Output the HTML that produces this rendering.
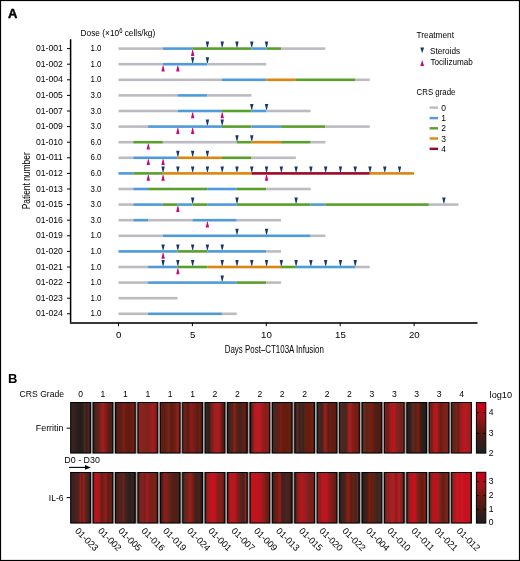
<!DOCTYPE html><html><head><meta charset="utf-8"><style>html,body{margin:0;padding:0;background:#fff;}svg{display:block;will-change:transform;} text{font-family:"Liberation Sans", sans-serif;}</style></head><body>
<svg width="520" height="561" viewBox="0 0 520 561">
<defs>
<linearGradient id="f0" x1="0" y1="0" x2="1" y2="0"><stop offset="0%" stop-color="#1a1010"/><stop offset="4%" stop-color="#3a2420"/><stop offset="16%" stop-color="#342220"/><stop offset="30%" stop-color="#2c201e"/><stop offset="48%" stop-color="#241c1a"/><stop offset="62%" stop-color="#2c201e"/><stop offset="72%" stop-color="#4a2a26"/><stop offset="81%" stop-color="#3c1c18"/><stop offset="90%" stop-color="#4a2824"/><stop offset="97%" stop-color="#3a201c"/><stop offset="100%" stop-color="#1a1010"/></linearGradient>
<linearGradient id="f1" x1="0" y1="0" x2="1" y2="0"><stop offset="0%" stop-color="#1a1010"/><stop offset="4%" stop-color="#3a1e1a"/><stop offset="15%" stop-color="#4a2620"/><stop offset="30%" stop-color="#6a2018"/><stop offset="40%" stop-color="#8a2020"/><stop offset="50%" stop-color="#a81c20"/><stop offset="60%" stop-color="#8a1e1a"/><stop offset="74%" stop-color="#6a1c14"/><stop offset="85%" stop-color="#4e201a"/><stop offset="96%" stop-color="#4a221c"/><stop offset="100%" stop-color="#1a1010"/></linearGradient>
<linearGradient id="f2" x1="0" y1="0" x2="1" y2="0"><stop offset="0%" stop-color="#1a1010"/><stop offset="4%" stop-color="#3a1a14"/><stop offset="12%" stop-color="#5a2018"/><stop offset="22%" stop-color="#5a1c12"/><stop offset="33%" stop-color="#6a1c14"/><stop offset="42%" stop-color="#7a2018"/><stop offset="53%" stop-color="#6a1a10"/><stop offset="64%" stop-color="#5e1c10"/><stop offset="75%" stop-color="#6a1a10"/><stop offset="88%" stop-color="#701c14"/><stop offset="96%" stop-color="#6a2014"/><stop offset="100%" stop-color="#1a1010"/></linearGradient>
<linearGradient id="f3" x1="0" y1="0" x2="1" y2="0"><stop offset="0%" stop-color="#1a1010"/><stop offset="3%" stop-color="#5a1814"/><stop offset="8%" stop-color="#8a2420"/><stop offset="30%" stop-color="#862220"/><stop offset="42%" stop-color="#7a2418"/><stop offset="53%" stop-color="#8a1e1a"/><stop offset="65%" stop-color="#8a2020"/><stop offset="77%" stop-color="#a81c20"/><stop offset="90%" stop-color="#8a1c1c"/><stop offset="97%" stop-color="#6a1814"/><stop offset="100%" stop-color="#1a1010"/></linearGradient>
<linearGradient id="f4" x1="0" y1="0" x2="1" y2="0"><stop offset="0%" stop-color="#1a1010"/><stop offset="4%" stop-color="#6a1c10"/><stop offset="20%" stop-color="#5e1c10"/><stop offset="31%" stop-color="#6a2014"/><stop offset="43%" stop-color="#70281c"/><stop offset="55%" stop-color="#5e1a0e"/><stop offset="66%" stop-color="#6a1c12"/><stop offset="78%" stop-color="#7a1c18"/><stop offset="90%" stop-color="#902420"/><stop offset="97%" stop-color="#6a1c18"/><stop offset="100%" stop-color="#1a1010"/></linearGradient>
<linearGradient id="f5" x1="0" y1="0" x2="1" y2="0"><stop offset="0%" stop-color="#1a1010"/><stop offset="3%" stop-color="#7a2018"/><stop offset="15%" stop-color="#6a2014"/><stop offset="27%" stop-color="#5a1c12"/><stop offset="40%" stop-color="#8a1c1c"/><stop offset="56%" stop-color="#7a1c18"/><stop offset="66%" stop-color="#6a1c14"/><stop offset="77%" stop-color="#5a1c12"/><stop offset="86%" stop-color="#6a2014"/><stop offset="94%" stop-color="#5a1410"/><stop offset="100%" stop-color="#1a1010"/></linearGradient>
<linearGradient id="f6" x1="0" y1="0" x2="1" y2="0"><stop offset="0%" stop-color="#1a1010"/><stop offset="4%" stop-color="#3a2420"/><stop offset="16%" stop-color="#2e201c"/><stop offset="26%" stop-color="#3a201c"/><stop offset="28%" stop-color="#7a1c18"/><stop offset="35%" stop-color="#6a2418"/><stop offset="45%" stop-color="#a01c20"/><stop offset="62%" stop-color="#b01c20"/><stop offset="76%" stop-color="#9a1c1c"/><stop offset="88%" stop-color="#5a1c14"/><stop offset="96%" stop-color="#4a1a14"/><stop offset="100%" stop-color="#1a1010"/></linearGradient>
<linearGradient id="f7" x1="0" y1="0" x2="1" y2="0"><stop offset="0%" stop-color="#1a1010"/><stop offset="4%" stop-color="#3a2018"/><stop offset="14%" stop-color="#44261f"/><stop offset="25%" stop-color="#5a2018"/><stop offset="34%" stop-color="#8a2420"/><stop offset="45%" stop-color="#6a1c10"/><stop offset="55%" stop-color="#4a2418"/><stop offset="64%" stop-color="#3a2420"/><stop offset="76%" stop-color="#5a2018"/><stop offset="86%" stop-color="#6a1c10"/><stop offset="95%" stop-color="#4a1410"/><stop offset="100%" stop-color="#1a1010"/></linearGradient>
<linearGradient id="f8" x1="0" y1="0" x2="1" y2="0"><stop offset="0%" stop-color="#1a1010"/><stop offset="3%" stop-color="#2a1410"/><stop offset="10%" stop-color="#5a2418"/><stop offset="18%" stop-color="#9a1c1c"/><stop offset="25%" stop-color="#b81820"/><stop offset="45%" stop-color="#b82024"/><stop offset="55%" stop-color="#b01c1c"/><stop offset="65%" stop-color="#9a1c1c"/><stop offset="80%" stop-color="#8a1c1c"/><stop offset="96%" stop-color="#8a1c1c"/><stop offset="100%" stop-color="#1a1010"/></linearGradient>
<linearGradient id="f9" x1="0" y1="0" x2="1" y2="0"><stop offset="0%" stop-color="#1a1010"/><stop offset="4%" stop-color="#3a2420"/><stop offset="12%" stop-color="#4a2820"/><stop offset="28%" stop-color="#5a2018"/><stop offset="42%" stop-color="#7a1c18"/><stop offset="55%" stop-color="#661c0c"/><stop offset="75%" stop-color="#661c0c"/><stop offset="90%" stop-color="#6a2010"/><stop offset="97%" stop-color="#4a1a10"/><stop offset="100%" stop-color="#1a1010"/></linearGradient>
<linearGradient id="f10" x1="0" y1="0" x2="1" y2="0"><stop offset="0%" stop-color="#1a1010"/><stop offset="4%" stop-color="#3a1c18"/><stop offset="12%" stop-color="#5a2c24"/><stop offset="22%" stop-color="#3e2220"/><stop offset="33%" stop-color="#482420"/><stop offset="44%" stop-color="#3a2420"/><stop offset="51%" stop-color="#5a2418"/><stop offset="60%" stop-color="#6a1c0c"/><stop offset="78%" stop-color="#6a1c10"/><stop offset="90%" stop-color="#722010"/><stop offset="97%" stop-color="#3a1410"/><stop offset="100%" stop-color="#1a1010"/></linearGradient>
<linearGradient id="f11" x1="0" y1="0" x2="1" y2="0"><stop offset="0%" stop-color="#1a1010"/><stop offset="4%" stop-color="#3e2a24"/><stop offset="17%" stop-color="#3e2822"/><stop offset="24%" stop-color="#3a2420"/><stop offset="30%" stop-color="#6a2018"/><stop offset="40%" stop-color="#a01c20"/><stop offset="49%" stop-color="#7a2018"/><stop offset="58%" stop-color="#5a1c14"/><stop offset="68%" stop-color="#62221a"/><stop offset="78%" stop-color="#5e1c12"/><stop offset="90%" stop-color="#6a1c10"/><stop offset="97%" stop-color="#4a1410"/><stop offset="100%" stop-color="#1a1010"/></linearGradient>
<linearGradient id="f12" x1="0" y1="0" x2="1" y2="0"><stop offset="0%" stop-color="#1a1010"/><stop offset="4%" stop-color="#4e2c26"/><stop offset="20%" stop-color="#4a2620"/><stop offset="33%" stop-color="#4a2620"/><stop offset="40%" stop-color="#6a2418"/><stop offset="48%" stop-color="#a82024"/><stop offset="58%" stop-color="#a01c20"/><stop offset="65%" stop-color="#8a1c1c"/><stop offset="75%" stop-color="#7a1c14"/><stop offset="95%" stop-color="#7a1c14"/><stop offset="100%" stop-color="#1a1010"/></linearGradient>
<linearGradient id="f13" x1="0" y1="0" x2="1" y2="0"><stop offset="0%" stop-color="#1a1010"/><stop offset="3%" stop-color="#3a1810"/><stop offset="10%" stop-color="#6a3020"/><stop offset="22%" stop-color="#5a2418"/><stop offset="35%" stop-color="#6a2414"/><stop offset="46%" stop-color="#7a1c14"/><stop offset="56%" stop-color="#6a1c10"/><stop offset="70%" stop-color="#4a2018"/><stop offset="80%" stop-color="#4a2018"/><stop offset="88%" stop-color="#5a1c14"/><stop offset="95%" stop-color="#5a0c08"/><stop offset="100%" stop-color="#1a1010"/></linearGradient>
<linearGradient id="f14" x1="0" y1="0" x2="1" y2="0"><stop offset="0%" stop-color="#1a1010"/><stop offset="4%" stop-color="#7a1c18"/><stop offset="20%" stop-color="#7a1c14"/><stop offset="31%" stop-color="#9a2020"/><stop offset="40%" stop-color="#b8141e"/><stop offset="50%" stop-color="#c0141e"/><stop offset="58%" stop-color="#8a2420"/><stop offset="72%" stop-color="#7a2420"/><stop offset="88%" stop-color="#7a1c18"/><stop offset="95%" stop-color="#8a2420"/><stop offset="100%" stop-color="#1a1010"/></linearGradient>
<linearGradient id="f15" x1="0" y1="0" x2="1" y2="0"><stop offset="0%" stop-color="#1a1010"/><stop offset="4%" stop-color="#2e201c"/><stop offset="14%" stop-color="#262020"/><stop offset="24%" stop-color="#4a2420"/><stop offset="35%" stop-color="#6a2418"/><stop offset="44%" stop-color="#4a2420"/><stop offset="54%" stop-color="#7a1c10"/><stop offset="60%" stop-color="#7a1c10"/><stop offset="66%" stop-color="#4a2018"/><stop offset="78%" stop-color="#2e1e18"/><stop offset="92%" stop-color="#262020"/><stop offset="100%" stop-color="#1a1010"/></linearGradient>
<linearGradient id="f16" x1="0" y1="0" x2="1" y2="0"><stop offset="0%" stop-color="#1a1010"/><stop offset="4%" stop-color="#7a1c18"/><stop offset="14%" stop-color="#7a1c14"/><stop offset="21%" stop-color="#a01c1c"/><stop offset="28%" stop-color="#c0101e"/><stop offset="37%" stop-color="#b01c20"/><stop offset="47%" stop-color="#8a1c18"/><stop offset="60%" stop-color="#6a1c10"/><stop offset="73%" stop-color="#7a2018"/><stop offset="86%" stop-color="#7a2420"/><stop offset="94%" stop-color="#8a1c18"/><stop offset="100%" stop-color="#1a1010"/></linearGradient>
<linearGradient id="f17" x1="0" y1="0" x2="1" y2="0"><stop offset="0%" stop-color="#1a1010"/><stop offset="4%" stop-color="#5a2820"/><stop offset="17%" stop-color="#6a2418"/><stop offset="26%" stop-color="#7a2418"/><stop offset="34%" stop-color="#6a1c10"/><stop offset="44%" stop-color="#8a2420"/><stop offset="56%" stop-color="#c0101e"/><stop offset="70%" stop-color="#b01c20"/><stop offset="85%" stop-color="#a81c20"/><stop offset="96%" stop-color="#a01c20"/><stop offset="100%" stop-color="#1a1010"/></linearGradient>
<linearGradient id="i0" x1="0" y1="0" x2="1" y2="0"><stop offset="0%" stop-color="#1a1010"/><stop offset="4%" stop-color="#3e2220"/><stop offset="20%" stop-color="#3e2220"/><stop offset="30%" stop-color="#4a2420"/><stop offset="42%" stop-color="#5a2018"/><stop offset="50%" stop-color="#9a1c1c"/><stop offset="57%" stop-color="#5a2018"/><stop offset="65%" stop-color="#a01c1c"/><stop offset="73%" stop-color="#6a2018"/><stop offset="83%" stop-color="#4a2420"/><stop offset="94%" stop-color="#3a2420"/><stop offset="100%" stop-color="#1a1010"/></linearGradient>
<linearGradient id="i1" x1="0" y1="0" x2="1" y2="0"><stop offset="0%" stop-color="#1a1010"/><stop offset="4%" stop-color="#a01418"/><stop offset="12%" stop-color="#c0101e"/><stop offset="20%" stop-color="#c0101e"/><stop offset="28%" stop-color="#a81c1c"/><stop offset="38%" stop-color="#7a2018"/><stop offset="47%" stop-color="#6a1c10"/><stop offset="56%" stop-color="#8a1c1c"/><stop offset="68%" stop-color="#8a1c1c"/><stop offset="76%" stop-color="#5a1c10"/><stop offset="88%" stop-color="#6a2018"/><stop offset="96%" stop-color="#5a1c14"/><stop offset="100%" stop-color="#1a1010"/></linearGradient>
<linearGradient id="i2" x1="0" y1="0" x2="1" y2="0"><stop offset="0%" stop-color="#1a1010"/><stop offset="4%" stop-color="#3a2420"/><stop offset="14%" stop-color="#4a2018"/><stop offset="22%" stop-color="#6a1c10"/><stop offset="31%" stop-color="#4a2420"/><stop offset="40%" stop-color="#5a2a24"/><stop offset="51%" stop-color="#4a2018"/><stop offset="64%" stop-color="#3a2018"/><stop offset="75%" stop-color="#222020"/><stop offset="85%" stop-color="#3a2420"/><stop offset="95%" stop-color="#2a1c18"/><stop offset="100%" stop-color="#1a1010"/></linearGradient>
<linearGradient id="i3" x1="0" y1="0" x2="1" y2="0"><stop offset="0%" stop-color="#1a1010"/><stop offset="4%" stop-color="#5a1c14"/><stop offset="12%" stop-color="#6a2820"/><stop offset="24%" stop-color="#8a2020"/><stop offset="35%" stop-color="#7a1c18"/><stop offset="44%" stop-color="#a01c20"/><stop offset="53%" stop-color="#8a2020"/><stop offset="70%" stop-color="#7a1c18"/><stop offset="85%" stop-color="#7a2418"/><stop offset="94%" stop-color="#6a1c10"/><stop offset="100%" stop-color="#1a1010"/></linearGradient>
<linearGradient id="i4" x1="0" y1="0" x2="1" y2="0"><stop offset="0%" stop-color="#1a1010"/><stop offset="4%" stop-color="#2a1c18"/><stop offset="11%" stop-color="#5a2018"/><stop offset="18%" stop-color="#8a1c1c"/><stop offset="34%" stop-color="#8a1c1c"/><stop offset="42%" stop-color="#5a2a24"/><stop offset="53%" stop-color="#6a1c10"/><stop offset="67%" stop-color="#4a2018"/><stop offset="81%" stop-color="#5a1c14"/><stop offset="92%" stop-color="#3a2420"/><stop offset="100%" stop-color="#1a1010"/></linearGradient>
<linearGradient id="i5" x1="0" y1="0" x2="1" y2="0"><stop offset="0%" stop-color="#1a1010"/><stop offset="4%" stop-color="#4a2a24"/><stop offset="15%" stop-color="#6a2418"/><stop offset="28%" stop-color="#7a2420"/><stop offset="40%" stop-color="#9a1c1c"/><stop offset="52%" stop-color="#7a1c14"/><stop offset="62%" stop-color="#4a2018"/><stop offset="74%" stop-color="#3a2420"/><stop offset="85%" stop-color="#4a2018"/><stop offset="94%" stop-color="#2e1c18"/><stop offset="100%" stop-color="#1a1010"/></linearGradient>
<linearGradient id="i6" x1="0" y1="0" x2="1" y2="0"><stop offset="0%" stop-color="#1a1010"/><stop offset="4%" stop-color="#5a1c14"/><stop offset="10%" stop-color="#9a1c1c"/><stop offset="24%" stop-color="#a81c20"/><stop offset="32%" stop-color="#c8101e"/><stop offset="48%" stop-color="#c8101e"/><stop offset="55%" stop-color="#a81c20"/><stop offset="63%" stop-color="#8a1c1c"/><stop offset="72%" stop-color="#7a2418"/><stop offset="82%" stop-color="#8a1c1c"/><stop offset="93%" stop-color="#6a1c10"/><stop offset="100%" stop-color="#1a1010"/></linearGradient>
<linearGradient id="i7" x1="0" y1="0" x2="1" y2="0"><stop offset="0%" stop-color="#1a1010"/><stop offset="4%" stop-color="#6a1c14"/><stop offset="10%" stop-color="#a01c1c"/><stop offset="18%" stop-color="#c8101e"/><stop offset="27%" stop-color="#a82020"/><stop offset="38%" stop-color="#c8101e"/><stop offset="48%" stop-color="#8a1c1c"/><stop offset="62%" stop-color="#6a2018"/><stop offset="75%" stop-color="#4a2420"/><stop offset="84%" stop-color="#4a2420"/><stop offset="91%" stop-color="#8a2420"/><stop offset="97%" stop-color="#5a1410"/><stop offset="100%" stop-color="#1a1010"/></linearGradient>
<linearGradient id="i8" x1="0" y1="0" x2="1" y2="0"><stop offset="0%" stop-color="#1a1010"/><stop offset="4%" stop-color="#a02020"/><stop offset="12%" stop-color="#c0141e"/><stop offset="35%" stop-color="#c0141e"/><stop offset="43%" stop-color="#c8101e"/><stop offset="52%" stop-color="#b01820"/><stop offset="63%" stop-color="#a01c1c"/><stop offset="75%" stop-color="#8a1c18"/><stop offset="88%" stop-color="#6a1c10"/><stop offset="96%" stop-color="#6a1c10"/><stop offset="100%" stop-color="#1a1010"/></linearGradient>
<linearGradient id="i9" x1="0" y1="0" x2="1" y2="0"><stop offset="0%" stop-color="#1a1010"/><stop offset="3%" stop-color="#2a2220"/><stop offset="8%" stop-color="#4a2420"/><stop offset="15%" stop-color="#6a1c10"/><stop offset="27%" stop-color="#7a1c18"/><stop offset="40%" stop-color="#9a1c1c"/><stop offset="47%" stop-color="#4a2018"/><stop offset="56%" stop-color="#3e2420"/><stop offset="72%" stop-color="#4a2420"/><stop offset="88%" stop-color="#4a2018"/><stop offset="96%" stop-color="#2a1c18"/><stop offset="100%" stop-color="#1a1010"/></linearGradient>
<linearGradient id="i10" x1="0" y1="0" x2="1" y2="0"><stop offset="0%" stop-color="#1a1010"/><stop offset="4%" stop-color="#5a1c14"/><stop offset="12%" stop-color="#7a2018"/><stop offset="22%" stop-color="#a01c1c"/><stop offset="36%" stop-color="#b0181e"/><stop offset="50%" stop-color="#a01c20"/><stop offset="62%" stop-color="#8a2020"/><stop offset="80%" stop-color="#7a2018"/><stop offset="93%" stop-color="#7a2018"/><stop offset="97%" stop-color="#5a1410"/><stop offset="100%" stop-color="#1a1010"/></linearGradient>
<linearGradient id="i11" x1="0" y1="0" x2="1" y2="0"><stop offset="0%" stop-color="#1a1010"/><stop offset="4%" stop-color="#a01c1c"/><stop offset="15%" stop-color="#8a2020"/><stop offset="25%" stop-color="#b81820"/><stop offset="40%" stop-color="#c8101e"/><stop offset="52%" stop-color="#a81c20"/><stop offset="65%" stop-color="#8a1c1c"/><stop offset="78%" stop-color="#7a1c18"/><stop offset="92%" stop-color="#6a1c10"/><stop offset="97%" stop-color="#5a1410"/><stop offset="100%" stop-color="#1a1010"/></linearGradient>
<linearGradient id="i12" x1="0" y1="0" x2="1" y2="0"><stop offset="0%" stop-color="#1a1010"/><stop offset="4%" stop-color="#2e2420"/><stop offset="18%" stop-color="#3e2420"/><stop offset="30%" stop-color="#5a2018"/><stop offset="38%" stop-color="#7a2418"/><stop offset="48%" stop-color="#8a1c1c"/><stop offset="59%" stop-color="#5a1c10"/><stop offset="68%" stop-color="#6a2014"/><stop offset="80%" stop-color="#4a2420"/><stop offset="92%" stop-color="#5a2820"/><stop offset="100%" stop-color="#1a1010"/></linearGradient>
<linearGradient id="i13" x1="0" y1="0" x2="1" y2="0"><stop offset="0%" stop-color="#1a1010"/><stop offset="4%" stop-color="#2a201c"/><stop offset="16%" stop-color="#3a2018"/><stop offset="28%" stop-color="#4a2018"/><stop offset="38%" stop-color="#7a1c10"/><stop offset="48%" stop-color="#6a1c0c"/><stop offset="58%" stop-color="#5a2418"/><stop offset="68%" stop-color="#4a2420"/><stop offset="80%" stop-color="#3a2420"/><stop offset="92%" stop-color="#4a2c26"/><stop offset="100%" stop-color="#1a1010"/></linearGradient>
<linearGradient id="i14" x1="0" y1="0" x2="1" y2="0"><stop offset="0%" stop-color="#1a1010"/><stop offset="4%" stop-color="#6a2010"/><stop offset="14%" stop-color="#8a2420"/><stop offset="26%" stop-color="#a01c1c"/><stop offset="38%" stop-color="#9a2a28"/><stop offset="48%" stop-color="#b81820"/><stop offset="60%" stop-color="#8a1c18"/><stop offset="73%" stop-color="#b81c24"/><stop offset="85%" stop-color="#8a2420"/><stop offset="94%" stop-color="#6a2018"/><stop offset="100%" stop-color="#1a1010"/></linearGradient>
<linearGradient id="i15" x1="0" y1="0" x2="1" y2="0"><stop offset="0%" stop-color="#1a1010"/><stop offset="4%" stop-color="#6a2018"/><stop offset="12%" stop-color="#8a2420"/><stop offset="20%" stop-color="#b01820"/><stop offset="30%" stop-color="#c8101e"/><stop offset="40%" stop-color="#c8101e"/><stop offset="46%" stop-color="#b01820"/><stop offset="55%" stop-color="#7a2418"/><stop offset="72%" stop-color="#6a1c10"/><stop offset="84%" stop-color="#6a1c10"/><stop offset="92%" stop-color="#8a1c18"/><stop offset="100%" stop-color="#1a1010"/></linearGradient>
<linearGradient id="i16" x1="0" y1="0" x2="1" y2="0"><stop offset="0%" stop-color="#1a1010"/><stop offset="4%" stop-color="#6a2018"/><stop offset="13%" stop-color="#8a2420"/><stop offset="22%" stop-color="#c0101e"/><stop offset="36%" stop-color="#c0101e"/><stop offset="46%" stop-color="#9a2020"/><stop offset="56%" stop-color="#7a2418"/><stop offset="70%" stop-color="#6a1c10"/><stop offset="86%" stop-color="#6a2820"/><stop offset="95%" stop-color="#8a1c18"/><stop offset="100%" stop-color="#1a1010"/></linearGradient>
<linearGradient id="i17" x1="0" y1="0" x2="1" y2="0"><stop offset="0%" stop-color="#1a1010"/><stop offset="4%" stop-color="#8a2820"/><stop offset="12%" stop-color="#8a2820"/><stop offset="18%" stop-color="#c0101e"/><stop offset="30%" stop-color="#c81a24"/><stop offset="40%" stop-color="#c8101e"/><stop offset="52%" stop-color="#c81a24"/><stop offset="65%" stop-color="#c8101e"/><stop offset="80%" stop-color="#c8101e"/><stop offset="92%" stop-color="#b81820"/><stop offset="100%" stop-color="#1a1010"/></linearGradient>
<linearGradient id="cbf" x1="0" y1="0" x2="0" y2="1"><stop offset="0%" stop-color="#d2001a"/><stop offset="10%" stop-color="#c4061a"/><stop offset="28%" stop-color="#a01418"/><stop offset="45%" stop-color="#7a1812"/><stop offset="60%" stop-color="#5a1810"/><stop offset="75%" stop-color="#3a1c18"/><stop offset="90%" stop-color="#2a2020"/><stop offset="100%" stop-color="#222020"/></linearGradient>
<linearGradient id="cbi" x1="0" y1="0" x2="0" y2="1"><stop offset="0%" stop-color="#cc001a"/><stop offset="10%" stop-color="#c0061a"/><stop offset="30%" stop-color="#9a1418"/><stop offset="50%" stop-color="#6a1810"/><stop offset="70%" stop-color="#4a1a14"/><stop offset="85%" stop-color="#2e1e1a"/><stop offset="100%" stop-color="#1e1e1c"/></linearGradient>
</defs>
<rect x="0" y="0" width="520" height="561" fill="#fff"/>
<rect x="0.5" y="0.5" width="519" height="560" fill="none" stroke="#000" stroke-width="1.2"/>
<text x="8.1" y="18.1" font-size="13" font-weight="bold" stroke="#000" stroke-width="0.45">A</text>
<text x="8" y="382.8" font-size="13" font-weight="bold">B</text>
<text x="80.6" y="35.9" font-size="9.4" textLength="74.6" lengthAdjust="spacingAndGlyphs">Dose (×10<tspan dy="-3.1" font-size="6.6">6</tspan><tspan dy="3.1"> cells/kg)</tspan></text>
<line x1="70.6" y1="39.3" x2="70.6" y2="322" stroke="#000" stroke-width="1.5"/>
<line x1="69.85" y1="322.9" x2="477.5" y2="322.9" stroke="#383838" stroke-width="2"/>
<line x1="67" y1="48.60" x2="70.6" y2="48.60" stroke="#000" stroke-width="1"/>
<text x="62.8" y="51.20" font-size="9.9" text-anchor="end" textLength="26.9" lengthAdjust="spacingAndGlyphs">01-001</text>
<text x="96.0" y="51.20" font-size="9" text-anchor="middle" textLength="11" lengthAdjust="spacingAndGlyphs">1.0</text>
<rect x="118.50" y="47.30" width="44.34" height="2.60" fill="#bdbbc2"/>
<rect x="162.84" y="47.30" width="29.56" height="2.60" fill="#4f9bd9"/>
<rect x="192.40" y="47.30" width="59.12" height="2.60" fill="#5a9f2b"/>
<rect x="251.52" y="47.30" width="14.78" height="2.60" fill="#4f9bd9"/>
<rect x="266.30" y="47.30" width="14.78" height="2.60" fill="#5a9f2b"/>
<rect x="281.08" y="47.30" width="44.34" height="2.60" fill="#bdbbc2"/>
<line x1="67" y1="64.20" x2="70.6" y2="64.20" stroke="#000" stroke-width="1"/>
<text x="62.8" y="66.80" font-size="9.9" text-anchor="end" textLength="26.9" lengthAdjust="spacingAndGlyphs">01-002</text>
<text x="96.0" y="66.80" font-size="9" text-anchor="middle" textLength="11" lengthAdjust="spacingAndGlyphs">1.0</text>
<rect x="118.50" y="62.90" width="44.34" height="2.60" fill="#bdbbc2"/>
<rect x="162.84" y="62.90" width="44.34" height="2.60" fill="#4f9bd9"/>
<rect x="207.18" y="62.90" width="59.12" height="2.60" fill="#bdbbc2"/>
<line x1="67" y1="79.80" x2="70.6" y2="79.80" stroke="#000" stroke-width="1"/>
<text x="62.8" y="82.40" font-size="9.9" text-anchor="end" textLength="26.9" lengthAdjust="spacingAndGlyphs">01-004</text>
<text x="96.0" y="82.40" font-size="9" text-anchor="middle" textLength="11" lengthAdjust="spacingAndGlyphs">1.0</text>
<rect x="118.50" y="78.50" width="103.46" height="2.60" fill="#bdbbc2"/>
<rect x="221.96" y="78.50" width="44.34" height="2.60" fill="#4f9bd9"/>
<rect x="266.30" y="78.50" width="29.56" height="2.60" fill="#dd860f"/>
<rect x="295.86" y="78.50" width="59.12" height="2.60" fill="#5a9f2b"/>
<rect x="354.98" y="78.50" width="14.78" height="2.60" fill="#bdbbc2"/>
<line x1="67" y1="95.40" x2="70.6" y2="95.40" stroke="#000" stroke-width="1"/>
<text x="62.8" y="98.00" font-size="9.9" text-anchor="end" textLength="26.9" lengthAdjust="spacingAndGlyphs">01-005</text>
<text x="96.0" y="98.00" font-size="9" text-anchor="middle" textLength="11" lengthAdjust="spacingAndGlyphs">3.0</text>
<rect x="118.50" y="94.10" width="59.12" height="2.60" fill="#bdbbc2"/>
<rect x="177.62" y="94.10" width="29.56" height="2.60" fill="#4f9bd9"/>
<rect x="207.18" y="94.10" width="44.34" height="2.60" fill="#bdbbc2"/>
<line x1="67" y1="111.00" x2="70.6" y2="111.00" stroke="#000" stroke-width="1"/>
<text x="62.8" y="113.60" font-size="9.9" text-anchor="end" textLength="26.9" lengthAdjust="spacingAndGlyphs">01-007</text>
<text x="96.0" y="113.60" font-size="9" text-anchor="middle" textLength="11" lengthAdjust="spacingAndGlyphs">3.0</text>
<rect x="118.50" y="109.70" width="59.12" height="2.60" fill="#bdbbc2"/>
<rect x="177.62" y="109.70" width="44.34" height="2.60" fill="#4f9bd9"/>
<rect x="221.96" y="109.70" width="29.56" height="2.60" fill="#5a9f2b"/>
<rect x="251.52" y="109.70" width="14.78" height="2.60" fill="#4f9bd9"/>
<rect x="266.30" y="109.70" width="44.34" height="2.60" fill="#bdbbc2"/>
<line x1="67" y1="126.60" x2="70.6" y2="126.60" stroke="#000" stroke-width="1"/>
<text x="62.8" y="129.20" font-size="9.9" text-anchor="end" textLength="26.9" lengthAdjust="spacingAndGlyphs">01-009</text>
<text x="96.0" y="129.20" font-size="9" text-anchor="middle" textLength="11" lengthAdjust="spacingAndGlyphs">3.0</text>
<rect x="118.50" y="125.30" width="29.56" height="2.60" fill="#bdbbc2"/>
<rect x="148.06" y="125.30" width="73.90" height="2.60" fill="#4f9bd9"/>
<rect x="221.96" y="125.30" width="29.56" height="2.60" fill="#5a9f2b"/>
<rect x="251.52" y="125.30" width="29.56" height="2.60" fill="#4f9bd9"/>
<rect x="281.08" y="125.30" width="44.34" height="2.60" fill="#5a9f2b"/>
<rect x="325.42" y="125.30" width="44.34" height="2.60" fill="#bdbbc2"/>
<line x1="67" y1="142.20" x2="70.6" y2="142.20" stroke="#000" stroke-width="1"/>
<text x="62.8" y="144.80" font-size="9.9" text-anchor="end" textLength="26.9" lengthAdjust="spacingAndGlyphs">01-010</text>
<text x="96.0" y="144.80" font-size="9" text-anchor="middle" textLength="11" lengthAdjust="spacingAndGlyphs">6.0</text>
<rect x="118.50" y="140.90" width="14.78" height="2.60" fill="#bdbbc2"/>
<rect x="133.28" y="140.90" width="29.56" height="2.60" fill="#5a9f2b"/>
<rect x="162.84" y="140.90" width="73.90" height="2.60" fill="#bdbbc2"/>
<rect x="236.74" y="140.90" width="14.78" height="2.60" fill="#5a9f2b"/>
<rect x="251.52" y="140.90" width="29.56" height="2.60" fill="#dd860f"/>
<rect x="281.08" y="140.90" width="29.56" height="2.60" fill="#5a9f2b"/>
<rect x="310.64" y="140.90" width="14.78" height="2.60" fill="#bdbbc2"/>
<line x1="67" y1="157.80" x2="70.6" y2="157.80" stroke="#000" stroke-width="1"/>
<text x="62.8" y="160.40" font-size="9.9" text-anchor="end" textLength="26.9" lengthAdjust="spacingAndGlyphs">01-011</text>
<text x="96.0" y="160.40" font-size="9" text-anchor="middle" textLength="11" lengthAdjust="spacingAndGlyphs">6.0</text>
<rect x="118.50" y="156.50" width="14.78" height="2.60" fill="#bdbbc2"/>
<rect x="133.28" y="156.50" width="44.34" height="2.60" fill="#4f9bd9"/>
<rect x="177.62" y="156.50" width="44.34" height="2.60" fill="#dd860f"/>
<rect x="221.96" y="156.50" width="29.56" height="2.60" fill="#5a9f2b"/>
<rect x="251.52" y="156.50" width="44.34" height="2.60" fill="#bdbbc2"/>
<line x1="67" y1="173.40" x2="70.6" y2="173.40" stroke="#000" stroke-width="1"/>
<text x="62.8" y="176.00" font-size="9.9" text-anchor="end" textLength="26.9" lengthAdjust="spacingAndGlyphs">01-012</text>
<text x="96.0" y="176.00" font-size="9" text-anchor="middle" textLength="11" lengthAdjust="spacingAndGlyphs">6.0</text>
<rect x="118.50" y="172.10" width="14.78" height="2.60" fill="#4f9bd9"/>
<rect x="133.28" y="172.10" width="29.56" height="2.60" fill="#5a9f2b"/>
<rect x="162.84" y="172.10" width="88.68" height="2.60" fill="#dd860f"/>
<rect x="251.52" y="172.10" width="118.24" height="2.60" fill="#a2061f"/>
<rect x="369.76" y="172.10" width="44.34" height="2.60" fill="#dd860f"/>
<line x1="67" y1="189.00" x2="70.6" y2="189.00" stroke="#000" stroke-width="1"/>
<text x="62.8" y="191.60" font-size="9.9" text-anchor="end" textLength="26.9" lengthAdjust="spacingAndGlyphs">01-013</text>
<text x="96.0" y="191.60" font-size="9" text-anchor="middle" textLength="11" lengthAdjust="spacingAndGlyphs">3.0</text>
<rect x="118.50" y="187.70" width="14.78" height="2.60" fill="#bdbbc2"/>
<rect x="133.28" y="187.70" width="14.78" height="2.60" fill="#4f9bd9"/>
<rect x="148.06" y="187.70" width="59.12" height="2.60" fill="#5a9f2b"/>
<rect x="207.18" y="187.70" width="29.56" height="2.60" fill="#4f9bd9"/>
<rect x="236.74" y="187.70" width="29.56" height="2.60" fill="#5a9f2b"/>
<rect x="266.30" y="187.70" width="44.34" height="2.60" fill="#bdbbc2"/>
<line x1="67" y1="204.60" x2="70.6" y2="204.60" stroke="#000" stroke-width="1"/>
<text x="62.8" y="207.20" font-size="9.9" text-anchor="end" textLength="26.9" lengthAdjust="spacingAndGlyphs">01-015</text>
<text x="96.0" y="207.20" font-size="9" text-anchor="middle" textLength="11" lengthAdjust="spacingAndGlyphs">3.0</text>
<rect x="118.50" y="203.30" width="14.78" height="2.60" fill="#bdbbc2"/>
<rect x="133.28" y="203.30" width="29.56" height="2.60" fill="#4f9bd9"/>
<rect x="162.84" y="203.30" width="14.78" height="2.60" fill="#5a9f2b"/>
<rect x="177.62" y="203.30" width="14.78" height="2.60" fill="#4f9bd9"/>
<rect x="192.40" y="203.30" width="14.78" height="2.60" fill="#5a9f2b"/>
<rect x="207.18" y="203.30" width="29.56" height="2.60" fill="#4f9bd9"/>
<rect x="236.74" y="203.30" width="73.90" height="2.60" fill="#5a9f2b"/>
<rect x="310.64" y="203.30" width="14.78" height="2.60" fill="#4f9bd9"/>
<rect x="325.42" y="203.30" width="103.46" height="2.60" fill="#5a9f2b"/>
<rect x="428.88" y="203.30" width="29.56" height="2.60" fill="#bdbbc2"/>
<line x1="67" y1="220.20" x2="70.6" y2="220.20" stroke="#000" stroke-width="1"/>
<text x="62.8" y="222.80" font-size="9.9" text-anchor="end" textLength="26.9" lengthAdjust="spacingAndGlyphs">01-016</text>
<text x="96.0" y="222.80" font-size="9" text-anchor="middle" textLength="11" lengthAdjust="spacingAndGlyphs">3.0</text>
<rect x="118.50" y="218.90" width="14.78" height="2.60" fill="#bdbbc2"/>
<rect x="133.28" y="218.90" width="14.78" height="2.60" fill="#4f9bd9"/>
<rect x="148.06" y="218.90" width="44.34" height="2.60" fill="#bdbbc2"/>
<rect x="192.40" y="218.90" width="44.34" height="2.60" fill="#4f9bd9"/>
<rect x="236.74" y="218.90" width="44.34" height="2.60" fill="#bdbbc2"/>
<line x1="67" y1="235.80" x2="70.6" y2="235.80" stroke="#000" stroke-width="1"/>
<text x="62.8" y="238.40" font-size="9.9" text-anchor="end" textLength="26.9" lengthAdjust="spacingAndGlyphs">01-019</text>
<text x="96.0" y="238.40" font-size="9" text-anchor="middle" textLength="11" lengthAdjust="spacingAndGlyphs">1.0</text>
<rect x="118.50" y="234.50" width="44.34" height="2.60" fill="#bdbbc2"/>
<rect x="162.84" y="234.50" width="147.80" height="2.60" fill="#4f9bd9"/>
<rect x="310.64" y="234.50" width="14.78" height="2.60" fill="#bdbbc2"/>
<line x1="67" y1="251.40" x2="70.6" y2="251.40" stroke="#000" stroke-width="1"/>
<text x="62.8" y="254.00" font-size="9.9" text-anchor="end" textLength="26.9" lengthAdjust="spacingAndGlyphs">01-020</text>
<text x="96.0" y="254.00" font-size="9" text-anchor="middle" textLength="11" lengthAdjust="spacingAndGlyphs">1.0</text>
<rect x="118.50" y="250.10" width="59.12" height="2.60" fill="#4f9bd9"/>
<rect x="177.62" y="250.10" width="29.56" height="2.60" fill="#5a9f2b"/>
<rect x="207.18" y="250.10" width="59.12" height="2.60" fill="#4f9bd9"/>
<rect x="266.30" y="250.10" width="14.78" height="2.60" fill="#bdbbc2"/>
<line x1="67" y1="267.00" x2="70.6" y2="267.00" stroke="#000" stroke-width="1"/>
<text x="62.8" y="269.60" font-size="9.9" text-anchor="end" textLength="26.9" lengthAdjust="spacingAndGlyphs">01-021</text>
<text x="96.0" y="269.60" font-size="9" text-anchor="middle" textLength="11" lengthAdjust="spacingAndGlyphs">1.0</text>
<rect x="118.50" y="265.70" width="29.56" height="2.60" fill="#bdbbc2"/>
<rect x="148.06" y="265.70" width="29.56" height="2.60" fill="#4f9bd9"/>
<rect x="177.62" y="265.70" width="29.56" height="2.60" fill="#5a9f2b"/>
<rect x="207.18" y="265.70" width="73.90" height="2.60" fill="#dd860f"/>
<rect x="281.08" y="265.70" width="14.78" height="2.60" fill="#5a9f2b"/>
<rect x="295.86" y="265.70" width="59.12" height="2.60" fill="#4f9bd9"/>
<rect x="354.98" y="265.70" width="14.78" height="2.60" fill="#bdbbc2"/>
<line x1="67" y1="282.60" x2="70.6" y2="282.60" stroke="#000" stroke-width="1"/>
<text x="62.8" y="285.20" font-size="9.9" text-anchor="end" textLength="26.9" lengthAdjust="spacingAndGlyphs">01-022</text>
<text x="96.0" y="285.20" font-size="9" text-anchor="middle" textLength="11" lengthAdjust="spacingAndGlyphs">1.0</text>
<rect x="118.50" y="281.30" width="29.56" height="2.60" fill="#bdbbc2"/>
<rect x="148.06" y="281.30" width="88.68" height="2.60" fill="#4f9bd9"/>
<rect x="236.74" y="281.30" width="29.56" height="2.60" fill="#5a9f2b"/>
<rect x="266.30" y="281.30" width="14.78" height="2.60" fill="#bdbbc2"/>
<line x1="67" y1="298.20" x2="70.6" y2="298.20" stroke="#000" stroke-width="1"/>
<text x="62.8" y="300.80" font-size="9.9" text-anchor="end" textLength="26.9" lengthAdjust="spacingAndGlyphs">01-023</text>
<text x="96.0" y="300.80" font-size="9" text-anchor="middle" textLength="11" lengthAdjust="spacingAndGlyphs">1.0</text>
<rect x="118.50" y="296.90" width="59.12" height="2.60" fill="#bdbbc2"/>
<line x1="67" y1="313.80" x2="70.6" y2="313.80" stroke="#000" stroke-width="1"/>
<text x="62.8" y="316.40" font-size="9.9" text-anchor="end" textLength="26.9" lengthAdjust="spacingAndGlyphs">01-024</text>
<text x="96.0" y="316.40" font-size="9" text-anchor="middle" textLength="11" lengthAdjust="spacingAndGlyphs">1.0</text>
<rect x="118.50" y="312.50" width="29.56" height="2.60" fill="#bdbbc2"/>
<rect x="148.06" y="312.50" width="73.90" height="2.60" fill="#4f9bd9"/>
<rect x="221.96" y="312.50" width="14.78" height="2.60" fill="#bdbbc2"/>
<path d="M205.73 41.60 L209.13 41.60 L207.78 47.30 L207.08 47.30 Z" fill="#163670"/>
<path d="M220.51 41.60 L223.91 41.60 L222.56 47.30 L221.86 47.30 Z" fill="#163670"/>
<path d="M235.29 41.60 L238.69 41.60 L237.34 47.30 L236.64 47.30 Z" fill="#163670"/>
<path d="M250.07 41.60 L253.47 41.60 L252.12 47.30 L251.42 47.30 Z" fill="#163670"/>
<path d="M264.85 41.60 L268.25 41.60 L266.90 47.30 L266.20 47.30 Z" fill="#163670"/>
<path d="M190.95 55.90 L194.35 55.90 L193.00 50.10 L192.30 50.10 Z" fill="#c8067e"/>
<path d="M190.95 57.20 L194.35 57.20 L193.00 62.90 L192.30 62.90 Z" fill="#163670"/>
<path d="M205.73 57.20 L209.13 57.20 L207.78 62.90 L207.08 62.90 Z" fill="#163670"/>
<path d="M161.39 71.50 L164.79 71.50 L163.44 65.70 L162.74 65.70 Z" fill="#c8067e"/>
<path d="M176.17 71.50 L179.57 71.50 L178.22 65.70 L177.52 65.70 Z" fill="#c8067e"/>
<path d="M250.07 104.00 L253.47 104.00 L252.12 109.70 L251.42 109.70 Z" fill="#163670"/>
<path d="M264.85 104.00 L268.25 104.00 L266.90 109.70 L266.20 109.70 Z" fill="#163670"/>
<path d="M190.95 118.30 L194.35 118.30 L193.00 112.50 L192.30 112.50 Z" fill="#c8067e"/>
<path d="M220.51 118.30 L223.91 118.30 L222.56 112.50 L221.86 112.50 Z" fill="#c8067e"/>
<path d="M205.73 119.60 L209.13 119.60 L207.78 125.30 L207.08 125.30 Z" fill="#163670"/>
<path d="M220.51 119.60 L223.91 119.60 L222.56 125.30 L221.86 125.30 Z" fill="#163670"/>
<path d="M176.17 133.90 L179.57 133.90 L178.22 128.10 L177.52 128.10 Z" fill="#c8067e"/>
<path d="M190.95 133.90 L194.35 133.90 L193.00 128.10 L192.30 128.10 Z" fill="#c8067e"/>
<path d="M235.29 135.20 L238.69 135.20 L237.34 140.90 L236.64 140.90 Z" fill="#163670"/>
<path d="M250.07 135.20 L253.47 135.20 L252.12 140.90 L251.42 140.90 Z" fill="#163670"/>
<path d="M146.61 149.50 L150.01 149.50 L148.66 143.70 L147.96 143.70 Z" fill="#c8067e"/>
<path d="M176.17 150.80 L179.57 150.80 L178.22 156.50 L177.52 156.50 Z" fill="#163670"/>
<path d="M190.95 150.80 L194.35 150.80 L193.00 156.50 L192.30 156.50 Z" fill="#163670"/>
<path d="M205.73 150.80 L209.13 150.80 L207.78 156.50 L207.08 156.50 Z" fill="#163670"/>
<path d="M146.61 165.10 L150.01 165.10 L148.66 159.30 L147.96 159.30 Z" fill="#c8067e"/>
<path d="M161.39 165.10 L164.79 165.10 L163.44 159.30 L162.74 159.30 Z" fill="#c8067e"/>
<path d="M161.39 166.40 L164.79 166.40 L163.44 172.10 L162.74 172.10 Z" fill="#163670"/>
<path d="M176.17 166.40 L179.57 166.40 L178.22 172.10 L177.52 172.10 Z" fill="#163670"/>
<path d="M190.95 166.40 L194.35 166.40 L193.00 172.10 L192.30 172.10 Z" fill="#163670"/>
<path d="M205.73 166.40 L209.13 166.40 L207.78 172.10 L207.08 172.10 Z" fill="#163670"/>
<path d="M220.51 166.40 L223.91 166.40 L222.56 172.10 L221.86 172.10 Z" fill="#163670"/>
<path d="M235.29 166.40 L238.69 166.40 L237.34 172.10 L236.64 172.10 Z" fill="#163670"/>
<path d="M250.07 166.40 L253.47 166.40 L252.12 172.10 L251.42 172.10 Z" fill="#163670"/>
<path d="M264.85 166.40 L268.25 166.40 L266.90 172.10 L266.20 172.10 Z" fill="#163670"/>
<path d="M279.63 166.40 L283.03 166.40 L281.68 172.10 L280.98 172.10 Z" fill="#163670"/>
<path d="M294.41 166.40 L297.81 166.40 L296.46 172.10 L295.76 172.10 Z" fill="#163670"/>
<path d="M309.19 166.40 L312.59 166.40 L311.24 172.10 L310.54 172.10 Z" fill="#163670"/>
<path d="M323.97 166.40 L327.37 166.40 L326.02 172.10 L325.32 172.10 Z" fill="#163670"/>
<path d="M338.75 166.40 L342.15 166.40 L340.80 172.10 L340.10 172.10 Z" fill="#163670"/>
<path d="M353.53 166.40 L356.93 166.40 L355.58 172.10 L354.88 172.10 Z" fill="#163670"/>
<path d="M368.31 166.40 L371.71 166.40 L370.36 172.10 L369.66 172.10 Z" fill="#163670"/>
<path d="M383.09 166.40 L386.49 166.40 L385.14 172.10 L384.44 172.10 Z" fill="#163670"/>
<path d="M397.87 166.40 L401.27 166.40 L399.92 172.10 L399.22 172.10 Z" fill="#163670"/>
<path d="M146.61 180.70 L150.01 180.70 L148.66 174.90 L147.96 174.90 Z" fill="#c8067e"/>
<path d="M161.39 180.70 L164.79 180.70 L163.44 174.90 L162.74 174.90 Z" fill="#c8067e"/>
<path d="M264.85 180.70 L268.25 180.70 L266.90 174.90 L266.20 174.90 Z" fill="#c8067e"/>
<path d="M190.95 197.60 L194.35 197.60 L193.00 203.30 L192.30 203.30 Z" fill="#163670"/>
<path d="M235.29 197.60 L238.69 197.60 L237.34 203.30 L236.64 203.30 Z" fill="#163670"/>
<path d="M294.41 197.60 L297.81 197.60 L296.46 203.30 L295.76 203.30 Z" fill="#163670"/>
<path d="M442.21 197.60 L445.61 197.60 L444.26 203.30 L443.56 203.30 Z" fill="#163670"/>
<path d="M176.17 211.90 L179.57 211.90 L178.22 206.10 L177.52 206.10 Z" fill="#c8067e"/>
<path d="M205.73 227.50 L209.13 227.50 L207.78 221.70 L207.08 221.70 Z" fill="#c8067e"/>
<path d="M235.29 228.80 L238.69 228.80 L237.34 234.50 L236.64 234.50 Z" fill="#163670"/>
<path d="M264.85 228.80 L268.25 228.80 L266.90 234.50 L266.20 234.50 Z" fill="#163670"/>
<path d="M161.39 244.40 L164.79 244.40 L163.44 250.10 L162.74 250.10 Z" fill="#163670"/>
<path d="M176.17 244.40 L179.57 244.40 L178.22 250.10 L177.52 250.10 Z" fill="#163670"/>
<path d="M190.95 244.40 L194.35 244.40 L193.00 250.10 L192.30 250.10 Z" fill="#163670"/>
<path d="M205.73 244.40 L209.13 244.40 L207.78 250.10 L207.08 250.10 Z" fill="#163670"/>
<path d="M220.51 244.40 L223.91 244.40 L222.56 250.10 L221.86 250.10 Z" fill="#163670"/>
<path d="M161.39 258.70 L164.79 258.70 L163.44 252.90 L162.74 252.90 Z" fill="#c8067e"/>
<path d="M161.39 260.00 L164.79 260.00 L163.44 265.70 L162.74 265.70 Z" fill="#163670"/>
<path d="M176.17 260.00 L179.57 260.00 L178.22 265.70 L177.52 265.70 Z" fill="#163670"/>
<path d="M190.95 260.00 L194.35 260.00 L193.00 265.70 L192.30 265.70 Z" fill="#163670"/>
<path d="M220.51 260.00 L223.91 260.00 L222.56 265.70 L221.86 265.70 Z" fill="#163670"/>
<path d="M235.29 260.00 L238.69 260.00 L237.34 265.70 L236.64 265.70 Z" fill="#163670"/>
<path d="M250.07 260.00 L253.47 260.00 L252.12 265.70 L251.42 265.70 Z" fill="#163670"/>
<path d="M264.85 260.00 L268.25 260.00 L266.90 265.70 L266.20 265.70 Z" fill="#163670"/>
<path d="M279.63 260.00 L283.03 260.00 L281.68 265.70 L280.98 265.70 Z" fill="#163670"/>
<path d="M294.41 260.00 L297.81 260.00 L296.46 265.70 L295.76 265.70 Z" fill="#163670"/>
<path d="M309.19 260.00 L312.59 260.00 L311.24 265.70 L310.54 265.70 Z" fill="#163670"/>
<path d="M323.97 260.00 L327.37 260.00 L326.02 265.70 L325.32 265.70 Z" fill="#163670"/>
<path d="M338.75 260.00 L342.15 260.00 L340.80 265.70 L340.10 265.70 Z" fill="#163670"/>
<path d="M353.53 260.00 L356.93 260.00 L355.58 265.70 L354.88 265.70 Z" fill="#163670"/>
<path d="M176.17 274.30 L179.57 274.30 L178.22 268.50 L177.52 268.50 Z" fill="#c8067e"/>
<path d="M220.51 275.60 L223.91 275.60 L222.56 281.30 L221.86 281.30 Z" fill="#163670"/>
<line x1="118.50" y1="322.8" x2="118.50" y2="326.2" stroke="#000" stroke-width="1"/>
<text x="118.70" y="337.9" font-size="9.7" text-anchor="middle">0</text>
<line x1="192.40" y1="322.8" x2="192.40" y2="326.2" stroke="#000" stroke-width="1"/>
<text x="192.60" y="337.9" font-size="9.7" text-anchor="middle">5</text>
<line x1="266.30" y1="322.8" x2="266.30" y2="326.2" stroke="#000" stroke-width="1"/>
<text x="266.50" y="337.9" font-size="9.7" text-anchor="middle">10</text>
<line x1="340.20" y1="322.8" x2="340.20" y2="326.2" stroke="#000" stroke-width="1"/>
<text x="340.40" y="337.9" font-size="9.7" text-anchor="middle">15</text>
<line x1="414.10" y1="322.8" x2="414.10" y2="326.2" stroke="#000" stroke-width="1"/>
<text x="414.30" y="337.9" font-size="9.7" text-anchor="middle">20</text>
<text x="274.3" y="353" font-size="10" text-anchor="middle" textLength="99.2" lengthAdjust="spacingAndGlyphs">Days Post–CT103A Infusion</text>
<text transform="translate(30 180.8) rotate(-90)" font-size="10" text-anchor="middle" textLength="57" lengthAdjust="spacingAndGlyphs">Patient number</text>
<text x="416.6" y="37.8" font-size="9" textLength="37.4" lengthAdjust="spacingAndGlyphs">Treatment</text>
<path d="M420.3 47.5 L424.1 47.5 L422.2 53.3 Z" fill="#163670"/>
<text x="430" y="53.7" font-size="9" textLength="30.2" lengthAdjust="spacingAndGlyphs">Steroids</text>
<path d="M420.3 65.9 L424.1 65.9 L422.2 60.1 Z" fill="#c8067e"/>
<text x="430.4" y="65.4" font-size="9" textLength="42.5" lengthAdjust="spacingAndGlyphs">Tocilizumab</text>
<text x="416.6" y="94.8" font-size="9" textLength="38.8" lengthAdjust="spacingAndGlyphs">CRS grade</text>
<rect x="429.6" y="106.40" width="8.4" height="2.4" fill="#bdbbc2"/>
<text x="441.3" y="110.60" font-size="8.5">0</text>
<rect x="429.6" y="116.90" width="8.4" height="2.4" fill="#4f9bd9"/>
<text x="441.3" y="121.10" font-size="8.5">1</text>
<rect x="429.6" y="127.10" width="8.4" height="2.4" fill="#5a9f2b"/>
<text x="441.3" y="131.30" font-size="8.5">2</text>
<rect x="429.6" y="137.30" width="8.4" height="2.4" fill="#dd860f"/>
<text x="441.3" y="141.50" font-size="8.5">3</text>
<rect x="429.6" y="147.60" width="8.4" height="2.4" fill="#a2061f"/>
<text x="441.3" y="151.80" font-size="8.5">4</text>
<text x="19.6" y="396.8" font-size="8.6">CRS Grade</text>
<rect x="70.2" y="402.00" width="401.5" height="51.50" fill="#a4a8a8"/>
<rect x="70.2" y="472.00" width="401.5" height="51.50" fill="#a4a8a8"/>
<text x="80.55" y="396.8" font-size="8.6" text-anchor="middle">0</text>
<rect x="70.70" y="402.50" width="19.70" height="50.50" fill="url(#f0)" stroke="#000" stroke-width="1"/>
<rect x="70.70" y="472.50" width="19.70" height="50.50" fill="url(#i0)" stroke="#000" stroke-width="1"/>
<text transform="translate(74.40 531.50) rotate(45)" font-size="9.2">01-023</text>
<text x="102.96" y="396.8" font-size="8.6" text-anchor="middle">1</text>
<rect x="93.11" y="402.50" width="19.70" height="50.50" fill="url(#f1)" stroke="#000" stroke-width="1"/>
<rect x="93.11" y="472.50" width="19.70" height="50.50" fill="url(#i1)" stroke="#000" stroke-width="1"/>
<text transform="translate(97.50 531.50) rotate(45)" font-size="9.2">01-002</text>
<text x="125.37" y="396.8" font-size="8.6" text-anchor="middle">1</text>
<rect x="115.52" y="402.50" width="19.70" height="50.50" fill="url(#f2)" stroke="#000" stroke-width="1"/>
<rect x="115.52" y="472.50" width="19.70" height="50.50" fill="url(#i2)" stroke="#000" stroke-width="1"/>
<text transform="translate(117.70 531.50) rotate(45)" font-size="9.2">01-005</text>
<text x="147.78" y="396.8" font-size="8.6" text-anchor="middle">1</text>
<rect x="137.93" y="402.50" width="19.70" height="50.50" fill="url(#f3)" stroke="#000" stroke-width="1"/>
<rect x="137.93" y="472.50" width="19.70" height="50.50" fill="url(#i3)" stroke="#000" stroke-width="1"/>
<text transform="translate(140.80 531.50) rotate(45)" font-size="9.2">01-016</text>
<text x="170.19" y="396.8" font-size="8.6" text-anchor="middle">1</text>
<rect x="160.34" y="402.50" width="19.70" height="50.50" fill="url(#f4)" stroke="#000" stroke-width="1"/>
<rect x="160.34" y="472.50" width="19.70" height="50.50" fill="url(#i4)" stroke="#000" stroke-width="1"/>
<text transform="translate(162.50 531.50) rotate(45)" font-size="9.2">01-019</text>
<text x="192.60" y="396.8" font-size="8.6" text-anchor="middle">1</text>
<rect x="182.75" y="402.50" width="19.70" height="50.50" fill="url(#f5)" stroke="#000" stroke-width="1"/>
<rect x="182.75" y="472.50" width="19.70" height="50.50" fill="url(#i5)" stroke="#000" stroke-width="1"/>
<text transform="translate(186.50 531.50) rotate(45)" font-size="9.2">01-024</text>
<text x="215.01" y="396.8" font-size="8.6" text-anchor="middle">2</text>
<rect x="205.16" y="402.50" width="19.70" height="50.50" fill="url(#f6)" stroke="#000" stroke-width="1"/>
<rect x="205.16" y="472.50" width="19.70" height="50.50" fill="url(#i6)" stroke="#000" stroke-width="1"/>
<text transform="translate(207.70 531.50) rotate(45)" font-size="9.2">01-001</text>
<text x="237.42" y="396.8" font-size="8.6" text-anchor="middle">2</text>
<rect x="227.57" y="402.50" width="19.70" height="50.50" fill="url(#f7)" stroke="#000" stroke-width="1"/>
<rect x="227.57" y="472.50" width="19.70" height="50.50" fill="url(#i7)" stroke="#000" stroke-width="1"/>
<text transform="translate(230.80 531.50) rotate(45)" font-size="9.2">01-007</text>
<text x="259.83" y="396.8" font-size="8.6" text-anchor="middle">2</text>
<rect x="249.98" y="402.50" width="19.70" height="50.50" fill="url(#f8)" stroke="#000" stroke-width="1"/>
<rect x="249.98" y="472.50" width="19.70" height="50.50" fill="url(#i8)" stroke="#000" stroke-width="1"/>
<text transform="translate(253.40 531.50) rotate(45)" font-size="9.2">01-009</text>
<text x="282.24" y="396.8" font-size="8.6" text-anchor="middle">2</text>
<rect x="272.39" y="402.50" width="19.70" height="50.50" fill="url(#f9)" stroke="#000" stroke-width="1"/>
<rect x="272.39" y="472.50" width="19.70" height="50.50" fill="url(#i9)" stroke="#000" stroke-width="1"/>
<text transform="translate(275.60 531.50) rotate(45)" font-size="9.2">01-013</text>
<text x="304.65" y="396.8" font-size="8.6" text-anchor="middle">2</text>
<rect x="294.80" y="402.50" width="19.70" height="50.50" fill="url(#f10)" stroke="#000" stroke-width="1"/>
<rect x="294.80" y="472.50" width="19.70" height="50.50" fill="url(#i10)" stroke="#000" stroke-width="1"/>
<text transform="translate(298.60 531.50) rotate(45)" font-size="9.2">01-015</text>
<text x="327.06" y="396.8" font-size="8.6" text-anchor="middle">2</text>
<rect x="317.21" y="402.50" width="19.70" height="50.50" fill="url(#f11)" stroke="#000" stroke-width="1"/>
<rect x="317.21" y="472.50" width="19.70" height="50.50" fill="url(#i11)" stroke="#000" stroke-width="1"/>
<text transform="translate(318.80 531.50) rotate(45)" font-size="9.2">01-020</text>
<text x="349.47" y="396.8" font-size="8.6" text-anchor="middle">2</text>
<rect x="339.62" y="402.50" width="19.70" height="50.50" fill="url(#f12)" stroke="#000" stroke-width="1"/>
<rect x="339.62" y="472.50" width="19.70" height="50.50" fill="url(#i12)" stroke="#000" stroke-width="1"/>
<text transform="translate(341.70 531.50) rotate(45)" font-size="9.2">01-022</text>
<text x="371.88" y="396.8" font-size="8.6" text-anchor="middle">3</text>
<rect x="362.03" y="402.50" width="19.70" height="50.50" fill="url(#f13)" stroke="#000" stroke-width="1"/>
<rect x="362.03" y="472.50" width="19.70" height="50.50" fill="url(#i13)" stroke="#000" stroke-width="1"/>
<text transform="translate(365.60 531.50) rotate(45)" font-size="9.2">01-004</text>
<text x="394.29" y="396.8" font-size="8.6" text-anchor="middle">3</text>
<rect x="384.44" y="402.50" width="19.70" height="50.50" fill="url(#f14)" stroke="#000" stroke-width="1"/>
<rect x="384.44" y="472.50" width="19.70" height="50.50" fill="url(#i14)" stroke="#000" stroke-width="1"/>
<text transform="translate(386.70 531.50) rotate(45)" font-size="9.2">01-010</text>
<text x="416.70" y="396.8" font-size="8.6" text-anchor="middle">3</text>
<rect x="406.85" y="402.50" width="19.70" height="50.50" fill="url(#f15)" stroke="#000" stroke-width="1"/>
<rect x="406.85" y="472.50" width="19.70" height="50.50" fill="url(#i15)" stroke="#000" stroke-width="1"/>
<text transform="translate(410.80 531.50) rotate(45)" font-size="9.2">01-011</text>
<text x="439.11" y="396.8" font-size="8.6" text-anchor="middle">3</text>
<rect x="429.26" y="402.50" width="19.70" height="50.50" fill="url(#f16)" stroke="#000" stroke-width="1"/>
<rect x="429.26" y="472.50" width="19.70" height="50.50" fill="url(#i16)" stroke="#000" stroke-width="1"/>
<text transform="translate(433.90 531.50) rotate(45)" font-size="9.2">01-021</text>
<text x="461.52" y="396.8" font-size="8.6" text-anchor="middle">4</text>
<rect x="451.67" y="402.50" width="19.70" height="50.50" fill="url(#f17)" stroke="#000" stroke-width="1"/>
<rect x="451.67" y="472.50" width="19.70" height="50.50" fill="url(#i17)" stroke="#000" stroke-width="1"/>
<text transform="translate(456.10 531.50) rotate(45)" font-size="9.2">01-012</text>
<text x="63.4" y="430.9" font-size="9" text-anchor="end" textLength="27.6" lengthAdjust="spacingAndGlyphs">Ferritin</text>
<line x1="66.7" y1="428.2" x2="70.2" y2="428.2" stroke="#000" stroke-width="1"/>
<text x="63.6" y="500.9" font-size="9.2" text-anchor="end" textLength="14.8" lengthAdjust="spacingAndGlyphs">IL-6</text>
<line x1="66.7" y1="497.6" x2="70.2" y2="497.6" stroke="#000" stroke-width="1"/>
<text x="64.3" y="463.3" font-size="9.2" textLength="35.6" lengthAdjust="spacingAndGlyphs">D0 - D30</text>
<line x1="69" y1="467.4" x2="87" y2="467.4" stroke="#000" stroke-width="1.1"/>
<path d="M90.8 467.4 L85 465.1 L85 469.7 Z" fill="#000"/>
<rect x="476.4" y="402.60" width="9.4" height="50.50" fill="url(#cbf)" stroke="#000" stroke-width="1"/>
<line x1="476.4" y1="412.60" x2="478.6" y2="412.60" stroke="#000" stroke-width="1"/>
<line x1="483.6" y1="412.60" x2="485.8" y2="412.60" stroke="#000" stroke-width="1"/>
<text x="488.8" y="414.50" font-size="8.6">4</text>
<line x1="476.4" y1="433.40" x2="478.6" y2="433.40" stroke="#000" stroke-width="1"/>
<line x1="483.6" y1="433.40" x2="485.8" y2="433.40" stroke="#000" stroke-width="1"/>
<text x="488.8" y="435.80" font-size="8.6">3</text>
<text x="488.8" y="456.20" font-size="8.6">2</text>
<rect x="476.4" y="472.30" width="9.4" height="50.80" fill="url(#cbi)" stroke="#000" stroke-width="1"/>
<line x1="476.4" y1="481.70" x2="478.6" y2="481.70" stroke="#000" stroke-width="1"/>
<line x1="483.6" y1="481.70" x2="485.8" y2="481.70" stroke="#000" stroke-width="1"/>
<text x="488.8" y="484.00" font-size="8.6">3</text>
<line x1="476.4" y1="495.60" x2="478.6" y2="495.60" stroke="#000" stroke-width="1"/>
<line x1="483.6" y1="495.60" x2="485.8" y2="495.60" stroke="#000" stroke-width="1"/>
<text x="488.8" y="497.90" font-size="8.6">2</text>
<line x1="476.4" y1="509.30" x2="478.6" y2="509.30" stroke="#000" stroke-width="1"/>
<line x1="483.6" y1="509.30" x2="485.8" y2="509.30" stroke="#000" stroke-width="1"/>
<text x="488.8" y="511.90" font-size="8.6">1</text>
<text x="488.8" y="525.30" font-size="8.6">0</text>
<text x="489.6" y="398" font-size="9" textLength="22.4" lengthAdjust="spacingAndGlyphs">log10</text>
</svg></body></html>
